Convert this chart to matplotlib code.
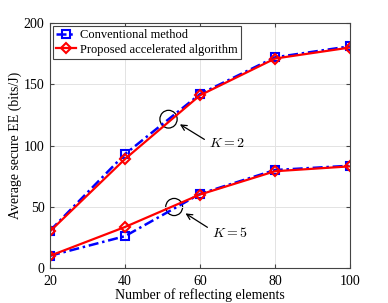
import matplotlib
matplotlib.use("Agg")
import matplotlib.pyplot as plt
from matplotlib.patches import Ellipse

# Data
elements = [20, 40, 60, 80, 100]
conv_k2 = [30.5, 93, 142, 172, 181]
prop_k2 = [30, 89, 141, 171, 180]
conv_k5 = [10, 26, 60.5, 80, 83.5]
prop_k5 = [10, 33.5, 60, 79, 83]

plt.rcParams["font.family"] = ["Liberation Serif", "DejaVu Serif"]
plt.rcParams["mathtext.fontset"] = "cm"

fig = plt.figure(figsize=(3.88, 3.03), dpi=100)
ax = fig.add_axes([0.129, 0.1155, 0.773, 0.8085])

ax.plot(elements, conv_k2, "b-.", marker="s", mfc="none", mew=1.5, ms=5.5, lw=1.8,
        dashes=(4, 1.5, 1, 1.5), label="Conventional method")
ax.plot(elements, prop_k2, "r-", marker="D", mfc="none", mew=1.5, ms=5, lw=1.6,
        label="Proposed accelerated algorithm")
ax.plot(elements, conv_k5, "b-.", marker="s", mfc="none", mew=1.5, ms=5.5, lw=1.8,
        dashes=(4, 1.5, 1, 1.5))
ax.plot(elements, prop_k5, "r-", marker="D", mfc="none", mew=1.5, ms=5, lw=1.6)

# circles and annotations
ax.add_patch(Ellipse((51.6, 121.5), 4.6, 14.5, fill=False, ec="k", lw=0.9))
ax.add_patch(Ellipse((53.1, 49.8), 4.5, 14, fill=False, ec="k", lw=0.9))
ax.annotate("", xy=(54.0, 118.5), xytext=(61.8, 103.8),
            arrowprops=dict(arrowstyle="->", color="k", lw=0.9))
ax.annotate("", xy=(55.5, 45.8), xytext=(62.6, 32),
            arrowprops=dict(arrowstyle="->", color="k", lw=0.9))
ax.text(62.3, 101.5, "$K = 2$", fontsize=10, va="center")
ax.text(63.2, 28.3, "$K = 5$", fontsize=10, va="center")

ax.set_xlim(20, 100)
ax.set_ylim(0, 200)
ax.set_xticks(elements)
ax.set_yticks([0, 50, 100, 150, 200])
ax.tick_params(direction="in", top=True, right=True, labelsize=10, length=3,
               color="#444444")
ax.tick_params(axis="x", pad=5)
ax.tick_params(axis="y", pad=4)
ax.grid(True, color="#e3e3e3", lw=0.7)
for s in ax.spines.values():
    s.set_color("#444444")
    s.set_linewidth(0.8)

ax.set_xlabel("Number of reflecting elements", fontsize=10, labelpad=0)
ax.set_ylabel("Average secure EE (bits/J)", fontsize=10, labelpad=1)

leg = ax.legend(loc="upper left", fontsize=9, handlelength=1.6, borderpad=0.25,
                labelspacing=0.2, handletextpad=0.3, borderaxespad=0.25,
                fancybox=False, framealpha=1)
leg.get_frame().set_edgecolor("#444444")
leg.get_frame().set_linewidth(0.8)

fig.savefig("out.png", dpi=100)
